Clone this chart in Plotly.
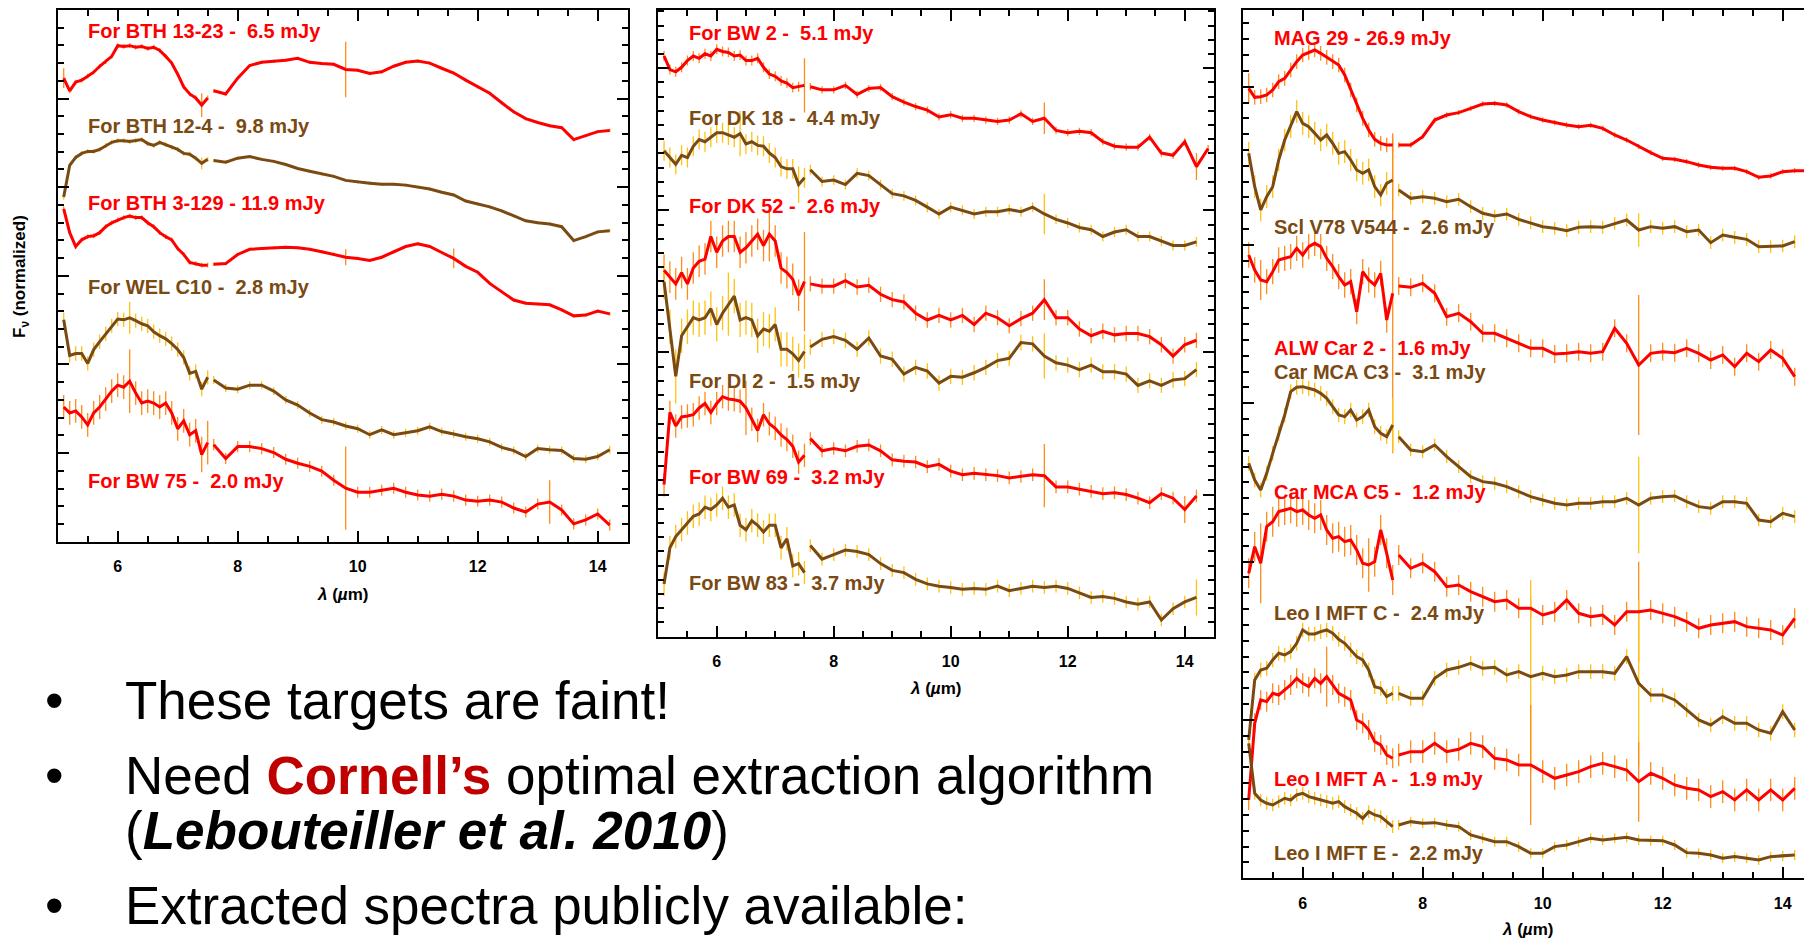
import plotly.graph_objects as go

# ---------------- wavelength grids (micron) ----------------
WL_SL2 = [5.1, 5.2, 5.3, 5.4, 5.5, 5.6, 5.7, 5.8, 5.9, 6.0, 6.1, 6.2, 6.3, 6.4, 6.5,
          6.6, 6.7, 6.8, 6.9, 7.0, 7.1, 7.2, 7.3, 7.4, 7.5]
WL_SL1 = [7.6, 7.8, 8.0, 8.2, 8.4, 8.6, 8.8, 9.0, 9.2, 9.4, 9.6, 9.8, 10.0, 10.2, 10.4,
          10.6, 10.8, 11.0, 11.2, 11.4, 11.6, 11.8, 12.0, 12.2, 12.4, 12.6, 12.8, 13.0,
          13.2, 13.4, 13.6, 13.8, 14.0, 14.2, 14.4]

# ---------------- panel 1 (normalized flux + offsets, arbitrary units) ----------------
BTH1323_SL2 = [1170, 1138, 1160, 1165, 1175, 1185, 1200, 1212, 1225, 1252, 1250, 1252, 1248, 1250, 1245, 1248, 1240, 1225, 1208, 1180, 1148, 1130, 1120, 1102, 1120]
BTH1323_SL1 = [1138, 1130, 1170, 1202, 1210, 1213, 1215, 1220, 1210, 1207, 1205, 1192, 1190, 1182, 1186, 1200, 1210, 1213, 1208, 1195, 1183, 1165, 1148, 1132, 1108, 1085, 1068, 1058, 1050, 1045, 1015, 1025, 1035, 1038, None]
BTH124_SL2 = [870, 950, 970, 980, 985, 985, 990, 1000, 1008, 1012, 1012, 1010, 1012, 1015, 1005, 1000, 1008, 1002, 995, 990, 980, 978, 968, 955, 965]
BTH124_SL1 = [962, 958, 968, 972, 965, 960, 952, 942, 935, 928, 922, 912, 908, 905, 902, 902, 900, 895, 890, 882, 875, 860, 852, 845, 835, 822, 810, 805, 802, 795, 760, 770, 782, 785, None]
BTH3129_SL2 = [840, 780, 745, 762, 770, 772, 780, 795, 805, 812, 818, 822, 818, 818, 805, 795, 780, 770, 762, 740, 725, 705, 702, 698, 698]
BTH3129_SL1 = [700, 702, 725, 738, 740, 742, 743, 742, 738, 732, 725, 718, 715, 710, 718, 732, 745, 752, 745, 730, 715, 695, 680, 652, 632, 610, 602, 600, 598, 585, 570, 572, 582, 575, None]
WELC10_SL2 = [560, 470, 475, 475, 450, 485, 505, 525, 545, 562, 560, 565, 558, 550, 545, 530, 520, 512, 500, 485, 465, 425, 430, 385, 415]
WELC10_SL1 = [408, 388, 385, 395, 395, 380, 358, 345, 325, 308, 302, 292, 285, 270, 282, 270, 275, 280, 290, 278, 272, 265, 260, 252, 238, 230, 215, 235, 232, 230, 210, 208, 215, 232, None]
BW75_SL2 = [340, 325, 330, 315, 295, 325, 340, 360, 380, 395, 390, 405, 375, 350, 355, 350, 340, 350, 325, 285, 305, 270, 280, 220, 250]
BW75_SL1 = [245, 210, 240, 240, 235, 225, 208, 198, 190, 178, 155, 135, 125, 125, 130, 135, 125, 118, 115, 120, 115, 105, 102, 105, 100, 85, 75, 95, 100, 80, 45, 55, 70, 42, None]

# ---------------- panel 2 ----------------
BW2_SL2 = [1287, 1257, 1252, 1262, 1277, 1287, 1282, 1292, 1287, 1302, 1297, 1295, 1287, 1289, 1277, 1277, 1282, 1262, 1247, 1242, 1232, 1227, 1217, 1219, 1222]
BW2_SL1 = [1219, 1212, 1212, 1222, 1202, 1215, 1217, 1197, 1185, 1175, 1167, 1152, 1157, 1149, 1149, 1145, 1142, 1145, 1159, 1142, 1149, 1122, 1117, 1120, 1117, 1097, 1087, 1085, 1085, 1107, 1072, 1067, 1097, 1042, 1082]
DK18_SL2 = [1077, 1062, 1047, 1067, 1062, 1087, 1102, 1097, 1107, 1117, 1117, 1112, 1107, 1115, 1092, 1097, 1089, 1087, 1072, 1062, 1042, 1037, 1037, 1002, 1017]
DK18_SL1 = [1035, 1009, 1012, 1002, 1027, 1022, 1002, 982, 977, 967, 952, 937, 952, 945, 937, 942, 942, 947, 942, 952, 937, 925, 917, 907, 902, 887, 897, 902, 887, 887, 877, 867, 867, 875, None]
DK52_SL2 = [812, 797, 782, 807, 782, 817, 832, 837, 887, 852, 877, 887, 887, 852, 862, 877, 892, 867, 892, 877, 817, 807, 792, 757, 787]
DK52_SL1 = [782, 777, 777, 789, 775, 779, 759, 747, 742, 717, 702, 712, 702, 712, 692, 717, 707, 689, 705, 717, 747, 707, 707, 682, 667, 677, 669, 672, 672, 665, 647, 622, 647, 657, None]
DI2_SL2 = [787, 687, 577, 667, 687, 707, 702, 707, 727, 692, 717, 737, 755, 702, 707, 702, 667, 682, 677, 692, 637, 637, 627, 612, 632]
DI2_SL1 = [642, 659, 665, 657, 637, 662, 622, 615, 582, 597, 589, 562, 577, 575, 585, 597, 612, 617, 652, 649, 622, 607, 602, 592, 602, 587, 587, 582, 557, 567, 557, 569, 572, 592, None]
BW69_SL2 = [337, 497, 467, 487, 489, 492, 507, 517, 497, 517, 532, 527, 525, 522, 507, 482, 457, 492, 472, 462, 447, 437, 422, 387, 402]
BW69_SL1 = [439, 412, 417, 412, 422, 425, 412, 392, 389, 387, 377, 382, 367, 359, 362, 359, 357, 352, 355, 359, 357, 332, 332, 327, 322, 317, 319, 315, 307, 297, 317, 307, 282, 312, None]
BW83_SL2 = [117, 197, 222, 237, 252, 267, 272, 287, 282, 292, 307, 287, 292, 247, 237, 257, 247, 232, 247, 247, 197, 217, 157, 162, 142]
BW83_SL1 = [202, 172, 182, 192, 189, 182, 162, 147, 142, 127, 117, 112, 109, 105, 107, 105, 112, 102, 107, 112, 109, 112, 107, 97, 87, 89, 85, 77, 72, 77, 37, 62, 77, 87, None]

# ---------------- panel 3 ----------------
MAG29_SL2 = [2370, 2343, 2345, 2350, 2365, 2390, 2400, 2425, 2450, 2470, 2477, 2485, 2475, 2463, 2450, 2440, 2410, 2365, 2320, 2280, 2245, 2217, 2205, 2200, 2200]
MAG29_SL1 = [2200, 2200, 2225, 2275, 2290, 2297, 2310, 2323, 2325, 2320, 2300, 2285, 2275, 2267, 2260, 2255, 2259, 2250, 2230, 2215, 2195, 2177, 2160, 2157, 2150, 2140, 2133, 2130, 2130, 2120, 2103, 2107, 2120, 2123, 2123]
SCL_SL2 = [2175, 2075, 2005, 2045, 2075, 2155, 2215, 2255, 2300, 2265, 2255, 2235, 2215, 2230, 2205, 2175, 2180, 2155, 2125, 2115, 2125, 2075, 2050, 2085, 2095]
SCL_SL1 = [2065, 2040, 2045, 2040, 2030, 2037, 2015, 1995, 1987, 1993, 1977, 1967, 1955, 1950, 1943, 1953, 1955, 1953, 1965, 1975, 1945, 1955, 1950, 1955, 1940, 1945, 1907, 1930, 1923, 1917, 1895, 1895, 1897, 1910, None]
ALW_SL2 = [1870, 1825, 1795, 1790, 1820, 1855, 1860, 1865, 1890, 1870, 1895, 1905, 1895, 1860, 1835, 1805, 1780, 1790, 1700, 1820, 1795, 1780, 1815, 1675, 1755]
ALW_SL1 = [1777, 1773, 1785, 1755, 1685, 1695, 1670, 1635, 1635, 1620, 1605, 1590, 1590, 1573, 1575, 1580, 1575, 1580, 1650, 1605, 1540, 1575, 1580, 1577, 1590, 1575, 1555, 1570, 1535, 1575, 1550, 1585, 1560, 1505, None]
C3_SL2 = [1245, 1195, 1165, 1215, 1275, 1335, 1390, 1460, 1473, 1475, 1470, 1465, 1455, 1440, 1415, 1390, 1385, 1405, 1375, 1385, 1405, 1355, 1335, 1325, 1360]
C3_SL1 = [1325, 1285, 1280, 1300, 1265, 1235, 1205, 1190, 1185, 1175, 1160, 1145, 1135, 1125, 1120, 1125, 1125, 1130, 1130, 1140, 1120, 1140, 1145, 1147, 1130, 1115, 1110, 1130, 1130, 1125, 1075, 1070, 1095, 1085, None]
C5_SL2 = [915, 995, 945, 1055, 1070, 1100, 1105, 1110, 1100, 1105, 1090, 1080, 1090, 1045, 1020, 1025, 1010, 1015, 985, 945, 940, 950, 1045, 975, 895]
C5_SL1 = [970, 930, 945, 920, 875, 880, 860, 845, 830, 835, 810, 810, 790, 800, 835, 795, 785, 790, 760, 800, 800, 805, 795, 785, 770, 750, 760, 765, 770, 755, 750, 745, 730, 780, None]
MFTC_SL2 = [415, 595, 625, 630, 655, 675, 670, 680, 705, 745, 733, 733, 740, 745, 735, 717, 705, 685, 665, 655, 625, 575, 570, 545, 555]
MFTC_SL1 = [555, 540, 540, 600, 625, 633, 645, 630, 633, 610, 620, 605, 615, 605, 610, 620, 620, 620, 615, 665, 585, 550, 550, 535, 505, 475, 460, 485, 465, 465, 445, 435, 500, 445, None]
MFTA_SL2 = [235, 465, 535, 530, 555, 550, 565, 580, 600, 585, 575, 600, 585, 605, 580, 555, 545, 535, 475, 465, 445, 410, 400, 370, 360]
MFTA_SL1 = [370, 380, 380, 405, 380, 387, 405, 395, 360, 355, 340, 340, 320, 300, 310, 320, 335, 345, 335, 325, 290, 315, 300, 280, 270, 265, 245, 260, 235, 265, 235, 265, 235, 270, None]
MFTE_SL2 = [405, 255, 235, 225, 220, 230, 240, 235, 250, 255, 245, 240, 235, 230, 225, 230, 215, 205, 195, 180, 200, 190, 185, 170, 155]
MFTE_SL1 = [160, 170, 165, 167, 160, 155, 130, 120, 110, 110, 95, 75, 75, 95, 100, 110, 120, 115, 120, 123, 115, 113, 113, 100, 77, 75, 70, 60, 65, 60, 55, 65, 67, 70, None]

# typical uncertainties (SL2, SL1) and isolated large error bars {wavelength: error}
NOISE = {
    "BTH1323": (6, 4), "BTH124": (6, 4), "BTH3129": (6, 4), "WELC10": (18, 10), "BW75": (30, 14),
    "BW2": (11, 8), "DK18": (22, 11), "DK52": (35, 17), "DI2": (38, 17), "BW69": (26, 14), "BW83": (26, 14),
    "MAG29": (22, 8), "SCL": (34, 19), "ALW": (38, 27), "C3": (22, 19), "C5": (45, 30),
    "MFTC": (22, 22), "MFTA": (30, 34), "MFTE": (19, 15),
}
SPIKES = {
    "BTH1323": {9.8: 70, 7.4: 30, 5.1: 25}, "BTH124": {7.4: 15}, "BTH3129": {9.8: 20, 11.6: 25},
    "WELC10": {6.2: 40}, "BW75": {6.2: 80, 9.8: 105, 13.2: 55, 7.5: 55, 7.4: 45},
    "BW2": {7.5: 60, 11.6: 35, 14.2: 30}, "DK18": {6.4: 50, 11.6: 45, 7.4: 40},
    "DK52": {7.5: 110, 11.6: 45, 6.9: 60}, "DI2": {5.3: 60, 6.2: 70, 11.6: 50},
    "BW69": {6.5: 60, 11.6: 70, 14.0: 30}, "BW83": {14.2: 40},
    "MAG29": {5.1: 45}, "SCL": {7.5: 90, 11.6: 50}, "ALW": {7.5: 480, 11.6: 210, 5.3: 60},
    "C3": {11.6: 145, 7.5: 80}, "C5": {5.3: 120, 11.6: 150, 7.1: 80},
    "MFTC": {9.8: 290, 11.6: 250}, "MFTA": {9.8: 180, 11.6: 120, 6.4: 90}, "MFTE": {},
}

LABELS_P1 = ["For BTH 13-23 -  6.5 mJy", "For BTH 12-4 -  9.8 mJy", "For BTH 3-129 - 11.9 mJy",
             "For WEL C10 -  2.8 mJy", "For BW 75 -  2.0 mJy"]
LABELS_P2 = ["For BW 2 -  5.1 mJy", "For DK 18 -  4.4 mJy", "For DK 52 -  2.6 mJy",
             "For DI 2 -  1.5 mJy", "For BW 69 -  3.2 mJy", "For BW 83 -  3.7 mJy"]
LABELS_P3 = ["MAG 29 - 26.9 mJy", "Scl V78 V544 -  2.6 mJy", "ALW Car 2 -  1.6 mJy",
             "Car MCA C3 -  3.1 mJy", "Car MCA C5 -  1.2 mJy", "Leo I MFT C -  2.4 mJy",
             "Leo I MFT A -  1.9 mJy", "Leo I MFT E -  2.2 mJy"]
LABEL_Y_P1 = [1288, 1048, 855, 643, 152]
LABEL_Y_P2 = [1339, 1149, 955, 567, 355, 120]
LABEL_Y_P3 = [2520, 1955, 1590, 1520, 1160, 795, 297, 77]

BULLETS = ["These targets are faint!",
           "Need <b><span style='color:#C00000'>Cornell’s</span></b> optimal extraction algorithm",
           "(<b><i>Lebouteiller et al. 2010</i></b>)",
           "Extracted spectra publicly available:"]

# ---------------- styling ----------------
RED, BROWN = "#FF0000", "#7A4A12"
ERR_RED, ERR_BROWN = "#FF8C1A", "#FFC20E"
FONT = "Liberation Sans, Arial, Helvetica, sans-serif"
W, H = 1804, 941

PANELS = [
    (["BTH1323", "BTH124", "BTH3129", "WELC10", "BW75"],
     [(BTH1323_SL2, BTH1323_SL1), (BTH124_SL2, BTH124_SL1), (BTH3129_SL2, BTH3129_SL1),
      (WELC10_SL2, WELC10_SL1), (BW75_SL2, BW75_SL1)], LABELS_P1, LABEL_Y_P1, "", 5.47),
    (["BW2", "DK18", "DK52", "DI2", "BW69", "BW83"],
     [(BW2_SL2, BW2_SL1), (DK18_SL2, DK18_SL1), (DK52_SL2, DK52_SL1), (DI2_SL2, DI2_SL1),
      (BW69_SL2, BW69_SL1), (BW83_SL2, BW83_SL1)], LABELS_P2, LABEL_Y_P2, "2", 5.484),
    (["MAG29", "SCL", "ALW", "C3", "C5", "MFTC", "MFTA", "MFTE"],
     [(MAG29_SL2, MAG29_SL1), (SCL_SL2, SCL_SL1), (ALW_SL2, ALW_SL1), (C3_SL2, C3_SL1),
      (C5_SL2, C5_SL1), (MFTC_SL2, MFTC_SL1), (MFTA_SL2, MFTA_SL1), (MFTE_SL2, MFTE_SL1)],
     LABELS_P3, LABEL_Y_P3, "3", 5.485),
]

fig = go.Figure()
err_traces, line_traces, annotations = [], [], []
xs = WL_SL2 + [None] + WL_SL1
for names, data, labels, label_y, sfx, lx in PANELS:
    for i, (name, (sl2, sl1)) in enumerate(zip(names, data)):
        col = RED if i % 2 == 0 else BROWN
        ecol = ERR_RED if i % 2 == 0 else ERR_BROWN
        n2, n1 = NOISE[name]
        sp = SPIKES[name]
        errs = [sp.get(w, n2) for w in WL_SL2] + [0] + [sp.get(w, n1) for w in WL_SL1]
        ys = sl2 + [None] + sl1
        err_traces.append(go.Scatter(
            x=xs, y=ys, mode="markers", marker=dict(size=1, color="rgba(0,0,0,0)"),
            error_y=dict(type="data", array=errs, symmetric=True, color=ecol, thickness=1.3, width=0),
            xaxis="x" + sfx, yaxis="y" + sfx, showlegend=False, hoverinfo="skip"))
        line_traces.append(go.Scatter(
            x=xs, y=ys, mode="lines", line=dict(color=col, width=3), connectgaps=False,
            xaxis="x" + sfx, yaxis="y" + sfx, showlegend=False, hoverinfo="skip"))
        annotations.append(dict(
            x=lx, y=label_y[i], xref="x" + sfx, yref="y" + sfx,
            text="<b>" + labels[i].replace("  ", " \u00a0") + "</b>",
            showarrow=False, xanchor="left", yanchor="middle",
            font=dict(family=FONT, size=20, color=col)))
for t in err_traces + line_traces:
    fig.add_trace(t)


def py(px):
    return 1 - px / H


def xax(domain, rng, anchor):
    return dict(domain=domain, range=rng, anchor=anchor, tick0=6, dtick=2, ticks="inside", ticklen=11,
                tickwidth=2, tickcolor="black", showline=True, linecolor="black", linewidth=2,
                mirror="ticks", showgrid=False, zeroline=False, ticklabelstandoff=9,
                tickfont=dict(family=FONT, size=16, color="black", weight="bold"),
                minor=dict(tick0=5, dtick=0.5, ticks="inside", ticklen=6, tickwidth=1.5,
                           tickcolor="black", showgrid=False))


def yax(domain, top, major, nminor, anchor, mirror="ticks"):
    return dict(domain=domain, range=[0, top], anchor=anchor, tick0=0, dtick=major, ticks="inside",
                ticklen=11, tickwidth=2, tickcolor="black", showline=True, linecolor="black",
                linewidth=2, mirror=mirror, showgrid=False, zeroline=False, showticklabels=False,
                minor=dict(tick0=0, dtick=major / nminor, ticks="inside", ticklen=6, tickwidth=1.5,
                           tickcolor="black", showgrid=False))


fig.update_layout(
    width=W, height=H, margin=dict(l=0, r=0, t=0, b=0),
    paper_bgcolor="white", plot_bgcolor="white", showlegend=False,
    xaxis=xax([57.7 / W, 627.7 / W], [5, 14.5], "y"),
    yaxis=yax([py(541.7), py(10)], 1342, 223.7, 5, "x"),
    xaxis2=xax([658.2 / W, 1214 / W], [5, 14.5], "y2"),
    yaxis2=yax([py(636.7), py(10)], 1389, 315, 10, "x2"),
    xaxis3=xax([1242.7 / W, 1.0], [5, 5 + (W - 1242.7) / 60], "y3"),
    yaxis3=yax([py(878.3), py(10)], 2605, 475, 10, "x3", mirror=False),
)

xlabel = "<b><i>λ</i> (<i>µ</i>m)</b>"
for cx, cy in [(342.7, 594), (936, 688), (1527.7, 929)]:
    annotations.append(dict(x=cx / W, y=py(cy), xref="paper", yref="paper", text=xlabel,
                            showarrow=False, xanchor="center", yanchor="middle",
                            font=dict(family=FONT, size=17, color="black")))
annotations.append(dict(x=21 / W, y=py(277), xref="paper", yref="paper",
                        text="<b>F<sub>ν</sub> (normalized)</b>", textangle=-90, showarrow=False,
                        xanchor="center", yanchor="middle", font=dict(family=FONT, size=17, color="black")))

bullet_y = [700, 775, 830, 905]
for k, (txt, by) in enumerate(zip(BULLETS, bullet_y)):
    annotations.append(dict(x=123 / W, y=py(by), xref="paper", yref="paper", text=txt, showarrow=False,
                            xanchor="left", yanchor="middle", font=dict(family=FONT, size=53, color="black")))
    if k != 2:
        annotations.append(dict(x=54 / W, y=py(by), xref="paper", yref="paper", text="•", showarrow=False,
                                xanchor="center", yanchor="middle", font=dict(family=FONT, size=53, color="black")))

fig.update_layout(annotations=annotations)
fig.write_html("out.html")
